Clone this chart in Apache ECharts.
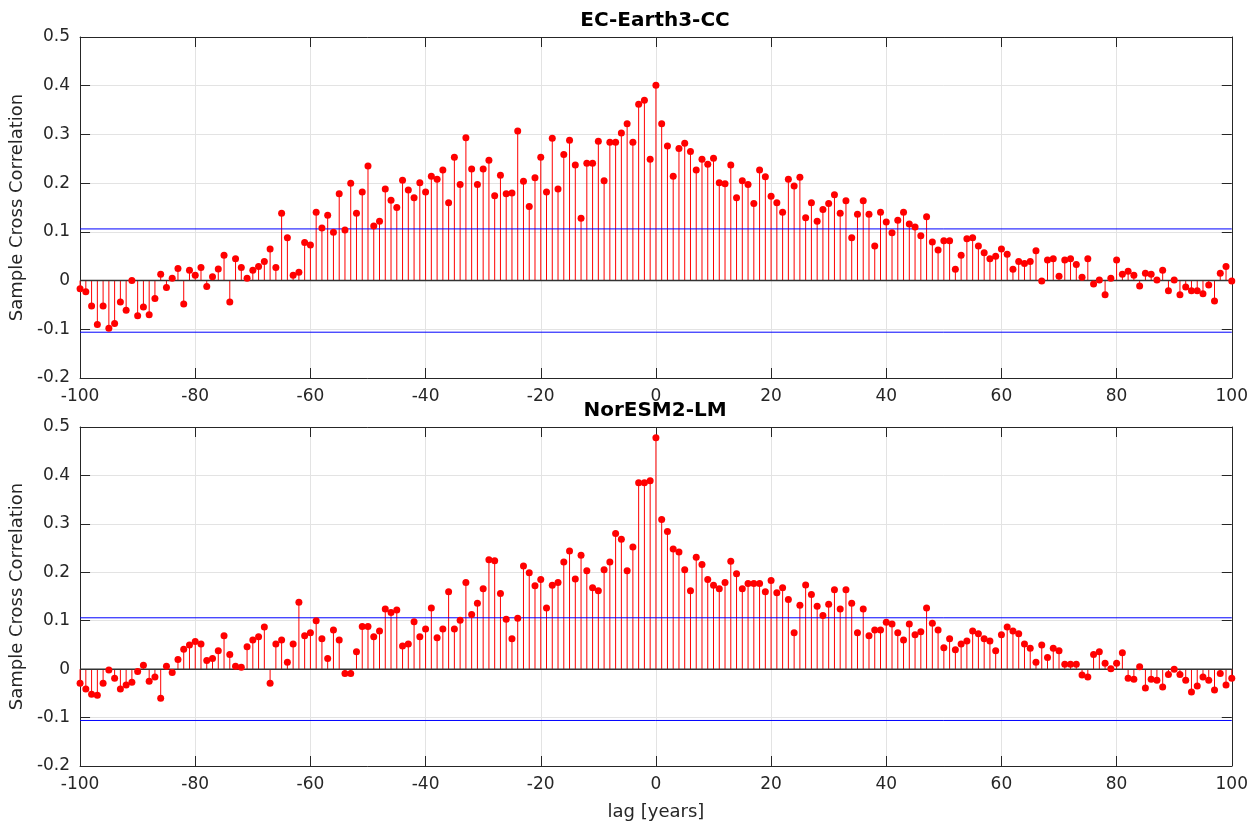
<!DOCTYPE html>
<html>
<head>
<meta charset="utf-8">
<script src="https://cdn.jsdelivr.net/npm/echarts@6/dist/echarts.min.js"></script>
<style>
  html, body { margin: 0; padding: 0; background: #fff; }
  #chart { width: 1251px; height: 822px; }
</style>
</head>
<body>
<div id="chart"></div>
<script>
// lags -100 .. 100
var lags = [];
for (var k = -100; k <= 100; k++) lags.push(k);

var titles = ['EC-Earth3-CC', 'NorESM2-LM'];
var confBound = 0.106;

var ecEarth = [
  -0.017, -0.023, -0.052, -0.090, -0.052, -0.098, -0.088, -0.044, -0.061, 0.000,
  -0.072, -0.054, -0.070, -0.037, 0.013, -0.014, 0.005, 0.025, -0.048, 0.021,
  0.011, 0.027, -0.012, 0.008, 0.024, 0.052, -0.044, 0.045, 0.027, 0.005,
  0.021, 0.029, 0.039, 0.065, 0.027, 0.138, 0.088, 0.011, 0.017, 0.078,
  0.073, 0.140, 0.108, 0.134, 0.099, 0.178, 0.104, 0.200, 0.138, 0.182,
  0.235, 0.112, 0.122, 0.188, 0.165, 0.150, 0.206, 0.186, 0.170, 0.201,
  0.182, 0.214, 0.208, 0.227, 0.160, 0.253, 0.197, 0.293, 0.229, 0.197,
  0.229, 0.247, 0.174, 0.216, 0.178, 0.180, 0.307, 0.204, 0.152, 0.211,
  0.253, 0.182, 0.292, 0.188, 0.259, 0.288, 0.237, 0.128, 0.241, 0.241,
  0.286, 0.205, 0.284, 0.284, 0.303, 0.322, 0.284, 0.362, 0.370, 0.249,
  0.401,
  0.322, 0.276, 0.214, 0.271, 0.282, 0.265, 0.227, 0.249, 0.239, 0.251,
  0.201, 0.199, 0.237, 0.170, 0.205, 0.197, 0.158, 0.227, 0.213, 0.173,
  0.160, 0.140, 0.208, 0.194, 0.212, 0.129, 0.160, 0.122, 0.146, 0.158,
  0.176, 0.138, 0.164, 0.088, 0.136, 0.164, 0.136, 0.071, 0.140, 0.120,
  0.098, 0.124, 0.140, 0.116, 0.110, 0.092, 0.131, 0.079, 0.063, 0.082,
  0.082, 0.023, 0.052, 0.086, 0.088, 0.071, 0.057, 0.045, 0.050, 0.065,
  0.054, 0.023, 0.039, 0.035, 0.039, 0.061, -0.001, 0.042, 0.045, 0.009,
  0.042, 0.045, 0.033, 0.007, 0.045, -0.007, 0.001, -0.029, 0.005, 0.042,
  0.013, 0.019, 0.011, -0.011, 0.015, 0.013, 0.001, 0.021, -0.021, 0.001,
  -0.029, -0.013, -0.021, -0.021, -0.027, -0.009, -0.042, 0.015, 0.029, -0.001
];

var norEsm = [
  -0.029, -0.041, -0.052, -0.054, -0.029, -0.002, -0.019, -0.041, -0.033, -0.027,
  -0.005, 0.008, -0.025, -0.016, -0.060, 0.006, -0.007, 0.020, 0.041, 0.050,
  0.057, 0.052, 0.018, 0.022, 0.038, 0.069, 0.030, 0.006, 0.004, 0.046,
  0.060, 0.067, 0.087, -0.029, 0.052, 0.060, 0.014, 0.052, 0.138, 0.069,
  0.075, 0.100, 0.063, 0.022, 0.081, 0.060, -0.009, -0.009, 0.036, 0.088,
  0.088, 0.067, 0.079, 0.124, 0.117, 0.122, 0.048, 0.052, 0.098, 0.067,
  0.083, 0.126, 0.065, 0.083, 0.160, 0.083, 0.101, 0.179, 0.113, 0.136,
  0.166, 0.226, 0.224, 0.156, 0.103, 0.063, 0.105, 0.213, 0.199, 0.172,
  0.185, 0.126, 0.173, 0.179, 0.221, 0.244, 0.186, 0.235, 0.203, 0.168,
  0.162, 0.205, 0.221, 0.280, 0.268, 0.203, 0.252, 0.385, 0.385, 0.389,
  0.478,
  0.309, 0.284, 0.248, 0.242, 0.205, 0.162, 0.231, 0.216, 0.185, 0.173,
  0.166, 0.179, 0.223, 0.197, 0.166, 0.177, 0.177, 0.177, 0.160, 0.183,
  0.158, 0.168, 0.144, 0.075, 0.132, 0.174, 0.154, 0.130, 0.111, 0.134,
  0.164, 0.124, 0.164, 0.136, 0.075, 0.124, 0.069, 0.081, 0.081, 0.097,
  0.093, 0.075, 0.060, 0.093, 0.071, 0.077, 0.126, 0.095, 0.081, 0.044,
  0.063, 0.040, 0.052, 0.058, 0.079, 0.073, 0.063, 0.058, 0.038, 0.071,
  0.087, 0.079, 0.073, 0.052, 0.043, 0.014, 0.050, 0.024, 0.043, 0.038,
  0.010, 0.010, 0.010, -0.012, -0.016, 0.030, 0.036, 0.012, 0.001, 0.012,
  0.034, -0.019, -0.021, 0.005, -0.039, -0.021, -0.023, -0.037, -0.011, 0.000,
  -0.011, -0.023, -0.047, -0.035, -0.016, -0.023, -0.043, -0.009, -0.033, -0.019
];

var panels = [ecEarth, norEsm];
var textColor = '#262626';
var font = 'DejaVu Sans';

var chart = echarts.init(document.getElementById('chart'));

var grids = [
  { left: 80, right: 19, top: 37, height: 341 },
  { left: 80, right: 19, top: 427, height: 341 }
];

var xAxes = [], yAxes = [], series = [], texts = [];

function hline(i, y, color, width, z) {
  return {
    type: 'line', xAxisIndex: i * 2, yAxisIndex: i * 2,
    data: [[-100, y], [100, y]], z: z, silent: true,
    symbol: 'none', showSymbol: false,
    lineStyle: { color: color, width: width, type: 'solid' }
  };
}

grids.forEach(function (g, i) {
  var mainX = {
    type: 'value', gridIndex: i, min: -100, max: 100, interval: 20,
    position: 'bottom',
    axisLine: { show: true, onZero: false, lineStyle: { color: textColor, width: 1 } },
    axisTick: { show: true, inside: true, length: 10, lineStyle: { color: textColor } },
    axisLabel: { color: textColor, fontSize: 17, fontFamily: font, margin: 10 },
    splitLine: { show: true, lineStyle: { color: '#e3e3e3', width: 1 } }
  };
  if (i === 1) {
    mainX.name = 'lag [years]';
    mainX.nameLocation = 'middle';
    mainX.nameGap = 37;
    mainX.nameTextStyle = { color: textColor, fontSize: 18, fontFamily: font };
  }
  xAxes.push(mainX);
  xAxes.push({
    type: 'value', gridIndex: i, min: -100, max: 100, interval: 20,
    position: 'top',
    axisLine: { show: true, onZero: false, lineStyle: { color: textColor, width: 1 } },
    axisTick: { show: true, inside: true, length: 10, lineStyle: { color: textColor } },
    axisLabel: { show: false },
    splitLine: { show: false }
  });
  yAxes.push({
    type: 'value', gridIndex: i, min: -0.2, max: 0.5, interval: 0.1,
    position: 'left',
    name: 'Sample Cross Correlation',
    nameLocation: 'middle', nameGap: 52, nameRotate: 90,
    nameTextStyle: { color: textColor, fontSize: 18, fontFamily: font },
    axisLine: { show: true, onZero: false, lineStyle: { color: textColor, width: 1 } },
    axisTick: { show: true, inside: true, length: 10, lineStyle: { color: textColor } },
    axisLabel: {
      color: textColor, fontSize: 17, fontFamily: font, margin: 10,
      formatter: function (v) { return String(Math.round(v * 10) / 10); }
    },
    splitLine: { show: true, lineStyle: { color: '#e3e3e3', width: 1 } }
  });
  yAxes.push({
    type: 'value', gridIndex: i, min: -0.2, max: 0.5, interval: 0.1,
    position: 'right',
    axisLine: { show: true, onZero: false, lineStyle: { color: textColor, width: 1 } },
    axisTick: { show: true, inside: true, length: 10, lineStyle: { color: textColor } },
    axisLabel: { show: false },
    splitLine: { show: false }
  });

  texts.push({
    type: 'text', x: 655, y: i === 0 ? 11 : 401, z: 10,
    style: {
      text: titles[i], textAlign: 'center', fill: '#000',
      font: 'bold 20px "DejaVu Sans"'
    }
  });

  var pts = lags.map(function (l, j) { return [l, panels[i][j]]; });

  // stems
  series.push({
    type: 'custom', xAxisIndex: i * 2, yAxisIndex: i * 2,
    data: pts, z: 3, silent: true,
    renderItem: function (params, api) {
      var p0 = api.coord([api.value(0), 0]);
      var p1 = api.coord([api.value(0), api.value(1)]);
      return {
        type: 'line',
        shape: { x1: p0[0], y1: p0[1], x2: p1[0], y2: p1[1] },
        style: { stroke: '#ff0000', lineWidth: 1 }
      };
    }
  });

  // confidence bounds and baseline
  series.push(hline(i, confBound, '#0000ff', 1, 4));
  series.push(hline(i, -confBound, '#0000ff', 1, 4));
  series.push(hline(i, 0, '#333333', 1.5, 4));

  // markers
  series.push({
    type: 'scatter', xAxisIndex: i * 2, yAxisIndex: i * 2,
    data: pts, z: 5, symbol: 'circle', symbolSize: 7,
    itemStyle: { color: '#ff0000', opacity: 1 }
  });
});

chart.setOption({
  animation: false,
  backgroundColor: '#ffffff',
  grid: grids,
  xAxis: xAxes,
  yAxis: yAxes,
  series: series,
  graphic: texts
});
</script>
</body>
</html>
